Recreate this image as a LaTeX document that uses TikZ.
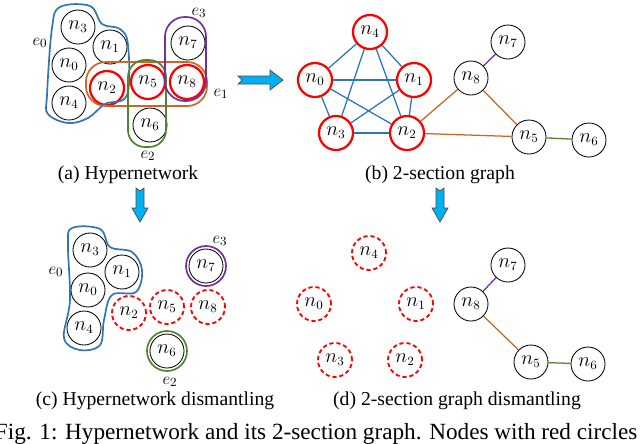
\documentclass[tikz,border=0pt]{standalone}
\usepackage{fontspec}
\setmainfont{Liberation Serif}
\definecolor{eblue}{RGB}{46,117,182}
\definecolor{eorange}{RGB}{204,102,34}
\definecolor{egreen}{RGB}{84,130,53}
\definecolor{epurple}{RGB}{112,48,160}
\definecolor{arrowfill}{RGB}{0,176,240}
\tikzset{
  vertex/.style={circle, draw=black, line width=0.6pt, minimum size=0.85cm, inner sep=0pt, font=\fontsize{13.5}{13.5}\selectfont},
  hit/.style={vertex, draw=red, line width=1.6pt},
  gone/.style={vertex, draw=red, line width=1.3pt, dash pattern=on 3pt off 2pt},
  hedge/.style={line width=1.2pt},
  caption/.style={font=\fontsize{14}{16}\selectfont},
  elabel/.style={font=\fontsize{13}{13}\selectfont},
  block/.style={fill=arrowfill, draw=black!70, line width=0.5pt}
}
\begin{document}
\begin{tikzpicture}[x=0.025cm, y=-0.025cm]
\useasboundingbox (0,0) rectangle (640,443);

% (a) Hypernetwork
\node[vertex] (a3) at (78,27) {$n_3$};
\node[vertex] (a1) at (110,47) {$n_1$};
\node[vertex] (a0) at (69,65) {$n_0$};
\node[vertex] (a4) at (69,103) {$n_4$};
\node[vertex] (a7) at (188,43) {$n_7$};
\node[vertex] (a6) at (150,125) {$n_6$};
\node[hit] (a2) at (107,88) {$n_2$};
\node[hit] (a5) at (148,82) {$n_5$};
\node[hit] (a8) at (187,82) {$n_8$};
\draw[hedge, eblue] plot[smooth cycle, tension=0.6] coordinates
  {(60,7) (90,6) (102,24) (120,29) (128,45) (127,95) (105,104) (88,118) (68,123) (48,114) (47,95) (52,28)};
\draw[hedge, eorange, rounded corners=14pt] (86,62) rectangle (207,106);
\draw[hedge, egreen, rounded corners=12pt] (128,60) rectangle (166,147);
\draw[hedge, epurple, rounded corners=14pt] (165,17) rectangle (206,101);
\node[elabel] (le0) at (40,43) {$e_0$};
\node[elabel] (le1) at (221,94) {$e_1$};
\node[elabel] (le2) at (148,156) {$e_2$};
\node[elabel] (le3) at (199,13) {$e_3$};
\node[caption] (capa) at (128,175) {(a) Hypernetwork};

% (b) 2-section graph
\node[hit] (b4) at (370,32) {$n_4$};
\node[hit] (b0) at (315,80) {$n_0$};
\node[hit] (b1) at (414,80) {$n_1$};
\node[hit] (b3) at (336,133) {$n_3$};
\node[hit] (b2) at (407,133) {$n_2$};
\node[vertex] (b8) at (471,78) {$n_8$};
\node[vertex] (b7) at (508,42) {$n_7$};
\node[vertex] (b5) at (529,137) {$n_5$};
\node[vertex] (b6) at (589,140) {$n_6$};
\foreach \u/\v in {b0/b1,b0/b2,b0/b3,b0/b4,b1/b2,b1/b3,b1/b4,b2/b3,b2/b4,b3/b4}
  \draw[eblue, line width=0.9pt] (\u) -- (\v);
\draw[eorange, line width=0.9pt] (b2) -- (b8) -- (b5) -- (b2);
\draw[epurple, line width=0.9pt] (b8) -- (b7);
\draw[egreen, line width=0.9pt] (b5) -- (b6);
\node[caption] (capb) at (440,175) {(b) 2-section graph};

% (c) Hypernetwork dismantling
\node[vertex] (c3) at (90,250) {$n_3$};
\node[vertex] (c1) at (122,272) {$n_1$};
\node[vertex] (c0) at (88,290) {$n_0$};
\node[vertex] (c4) at (84,328) {$n_4$};
\node[vertex] (c7) at (206,266) {$n_7$};
\node[vertex] (c6) at (167,351) {$n_6$};
\node[gone] (c2) at (129,313) {$n_2$};
\node[gone] (c5) at (167,307) {$n_5$};
\node[gone] (c8) at (208,307) {$n_8$};
\draw[hedge, eblue] plot[smooth cycle, tension=0.6] coordinates
  {(72,228) (100,229) (110,247) (132,252) (142,270) (136,292) (112,295) (104,320) (100,345) (80,350) (64,338) (70,300) (68,245)};
\draw[hedge, epurple] (c7) circle (20);
\draw[hedge, egreen] (c6) circle (20);
\node[elabel] (lc0) at (56,272) {$e_0$};
\node[elabel] (lc2) at (170,382) {$e_2$};
\node[elabel] (lc3) at (220,241) {$e_3$};
\node[caption] (capc) at (155,401) {(c) Hypernetwork dismantling};

% (d) 2-section graph dismantling
\node[gone] (d4) at (369,253) {$n_4$};
\node[gone] (d0) at (314,304) {$n_0$};
\node[gone] (d1) at (416,304) {$n_1$};
\node[gone] (d3) at (335,360) {$n_3$};
\node[gone] (d2) at (405,360) {$n_2$};
\node[vertex] (d8) at (471,304) {$n_8$};
\node[vertex] (d7) at (508,265) {$n_7$};
\node[vertex] (d5) at (531,362) {$n_5$};
\node[vertex] (d6) at (588,364) {$n_6$};
\draw[epurple, line width=0.9pt] (d8) -- (d7);
\draw[eorange, line width=0.9pt] (d8) -- (d5);
\draw[egreen, line width=0.9pt] (d5) -- (d6);
\node[caption] (capd) at (457,401) {(d) 2-section graph dismantling};

% Block arrows
\draw[block] (238,76) -- (270,76) -- (270,70) -- (283,80) -- (270,90) -- (270,84) -- (238,84) -- (242,80) -- cycle;
\foreach \x in {140,440}
  \draw[block] (\x-4,188) -- (\x,191) -- (\x+4,188) -- (\x+4,208) -- (\x+8,208) -- (\x,222) -- (\x-8,208) -- (\x-4,208) -- cycle;

% Figure caption
\node[caption, font=\fontsize{16.5}{18}\selectfont, anchor=west] (fig) at (-10,434) {Fig. 1: Hypernetwork and its 2-section graph. Nodes with red circles};
\end{tikzpicture}
\end{document}
